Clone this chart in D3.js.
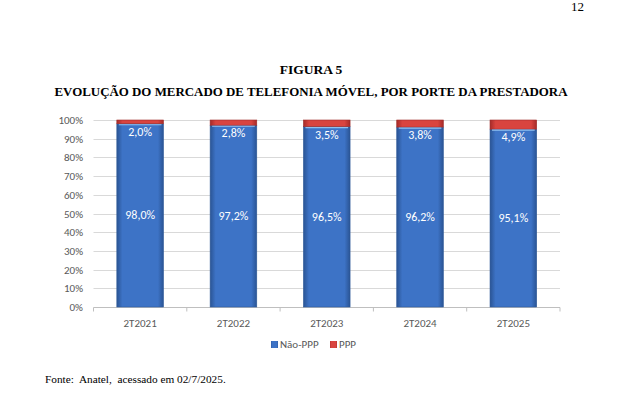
<!DOCTYPE html>
<html>
<head>
<meta charset="utf-8">
<script src="https://cdn.jsdelivr.net/npm/d3@7"></script>
<style>
  body { margin: 0; background: #fff; }
  svg { display: block; }
</style>
</head>
<body>
<svg id="chart" width="621" height="396"></svg>
<script>
// data
const periods = ["2T2021", "2T2022", "2T2023", "2T2024", "2T2025"];
const naoPPP = [98.0, 97.2, 96.5, 96.2, 95.1];
const ppp = [2.0, 2.8, 3.5, 3.8, 4.9];
const yTicks = [0, 10, 20, 30, 40, 50, 60, 70, 80, 90, 100];
const seriesNames = ["Não-PPP", "PPP"];

const svg = d3.select("#chart");
const serif = "'Liberation Serif', 'Times New Roman', serif";
const sans = "Carlito, Calibri, 'Open Sans', 'Noto Sans', sans-serif";

// gradients for the bevelled Excel look
const defs = svg.append("defs");
function barGradient(id, edge, mid) {
  let g = defs.append("linearGradient").attr("id", id)
    .attr("x1", "0").attr("x2", "1").attr("y1", "0").attr("y2", "0");
  g.append("stop").attr("offset", "0%").attr("stop-color", edge);
  g.append("stop").attr("offset", "12%").attr("stop-color", mid);
  g.append("stop").attr("offset", "88%").attr("stop-color", mid);
  g.append("stop").attr("offset", "100%").attr("stop-color", edge);
}
barGradient("gBlue", "#2a5494", "#3d73c6");
barGradient("gRed", "#a52a28", "#d9443f");

// page number + titles
svg.append("text").attr("x", 571).attr("y", 11)
  .style("font-family", serif).style("font-size", "13px").text("12");
svg.append("text").attr("x", 311).attr("y", 74).attr("text-anchor", "middle")
  .style("font-family", serif).style("font-size", "13.5px").style("font-weight", "bold")
  .text("FIGURA 5");
svg.append("text").attr("x", 311).attr("y", 96).attr("text-anchor", "middle")
  .attr("textLength", 513).attr("lengthAdjust", "spacingAndGlyphs")
  .style("font-family", serif).style("font-size", "13.5px").style("font-weight", "bold")
  .text("EVOLUÇÃO DO MERCADO DE TELEFONIA MÓVEL, POR PORTE DA PRESTADORA");

const x = d3.scaleBand().domain(periods).range([93.5, 560]).paddingInner(0.5).paddingOuter(0.25);
const y = d3.scaleLinear().domain([0, 100]).range([307, 120]);

// gridlines
svg.append("g").selectAll("line").data(yTicks.slice(1)).enter().append("line")
  .attr("x1", 93.5).attr("x2", 560)
  .attr("y1", d => Math.round(y(d)) + 0.5).attr("y2", d => Math.round(y(d)) + 0.5)
  .attr("stroke", "#d9d9d9").attr("stroke-width", 1);

// y axis labels
svg.append("g").selectAll("text").data(yTicks).enter().append("text")
  .attr("x", 83).attr("y", d => y(d) + 4).attr("text-anchor", "end")
  .style("font-family", sans).style("font-size", "11px").style("fill", "#595959")
  .text(d => d + "%");

// x axis
const xAxis = svg.append("g").attr("transform", "translate(0,307.5)")
  .call(d3.axisBottom(x).tickSize(0).tickPadding(12));
xAxis.select(".domain").attr("stroke", "#bfbfbf").attr("d", "M93.5,0H560");
xAxis.selectAll("text").style("font-family", sans).style("font-size", "11px").style("fill", "#595959");
const step = x.step();
xAxis.selectAll(".sep").data(d3.range(periods.length + 1)).enter().append("line")
  .attr("x1", i => 93.5 + i * step).attr("x2", i => 93.5 + i * step)
  .attr("y1", 0).attr("y2", 4).attr("stroke", "#bfbfbf");

// bars
const bars = svg.append("g").selectAll("g").data(periods).enter().append("g");
bars.append("rect")
  .attr("x", d => x(d)).attr("width", x.bandwidth())
  .attr("y", (d, i) => y(naoPPP[i])).attr("height", (d, i) => y(0) - y(naoPPP[i]))
  .attr("fill", "url(#gBlue)").attr("stroke", "#2f5a99").attr("stroke-width", 0.6);
bars.append("rect")
  .attr("x", d => x(d)).attr("width", x.bandwidth())
  .attr("y", (d, i) => y(100)).attr("height", (d, i) => y(naoPPP[i]) - y(100))
  .attr("fill", "url(#gRed)").attr("stroke", "#9e2b28").attr("stroke-width", 0.6);
// light top edge of the blue part
bars.append("line")
  .attr("x1", d => x(d) + 2).attr("x2", d => x(d) + x.bandwidth() - 2)
  .attr("y1", (d, i) => y(naoPPP[i]) + 1).attr("y2", (d, i) => y(naoPPP[i]) + 1)
  .attr("stroke", "#8fc0f0").attr("stroke-width", 1.2);

const fmt = v => v.toFixed(1).replace(".", ",") + "%";
bars.append("text")
  .attr("x", d => x(d) + x.bandwidth() / 2)
  .attr("y", (d, i) => y(naoPPP[i] / 2) + 4).attr("text-anchor", "middle")
  .style("font-family", sans).style("font-size", "12px").style("fill", "#fff")
  .text((d, i) => fmt(naoPPP[i]));
bars.append("text")
  .attr("x", d => x(d) + x.bandwidth() / 2)
  .attr("y", (d, i) => y(naoPPP[i]) + 12).attr("text-anchor", "middle")
  .style("font-family", sans).style("font-size", "12px").style("fill", "#fff")
  .text((d, i) => fmt(ppp[i]));

// legend
const legend = svg.append("g").attr("transform", "translate(0,346)");
const legX = [271, 330];
const legFill = ["url(#gBlue)", "url(#gRed)"];
seriesNames.forEach((name, i) => {
  legend.append("rect").attr("x", legX[i]).attr("y", -5).attr("width", 7).attr("height", 7)
    .attr("fill", legFill[i]);
  legend.append("text").attr("x", legX[i] + 9).attr("y", 1.5)
    .style("font-family", sans).style("font-size", "11px").style("fill", "#595959")
    .text(name);
});

// source note
svg.append("text").attr("x", 45).attr("y", 383)
  .style("font-family", serif).style("font-size", "11.3px").attr("xml:space", "preserve")
  .text("Fonte:  Anatel,  acessado em 02/7/2025.");
</script>
</body>
</html>
